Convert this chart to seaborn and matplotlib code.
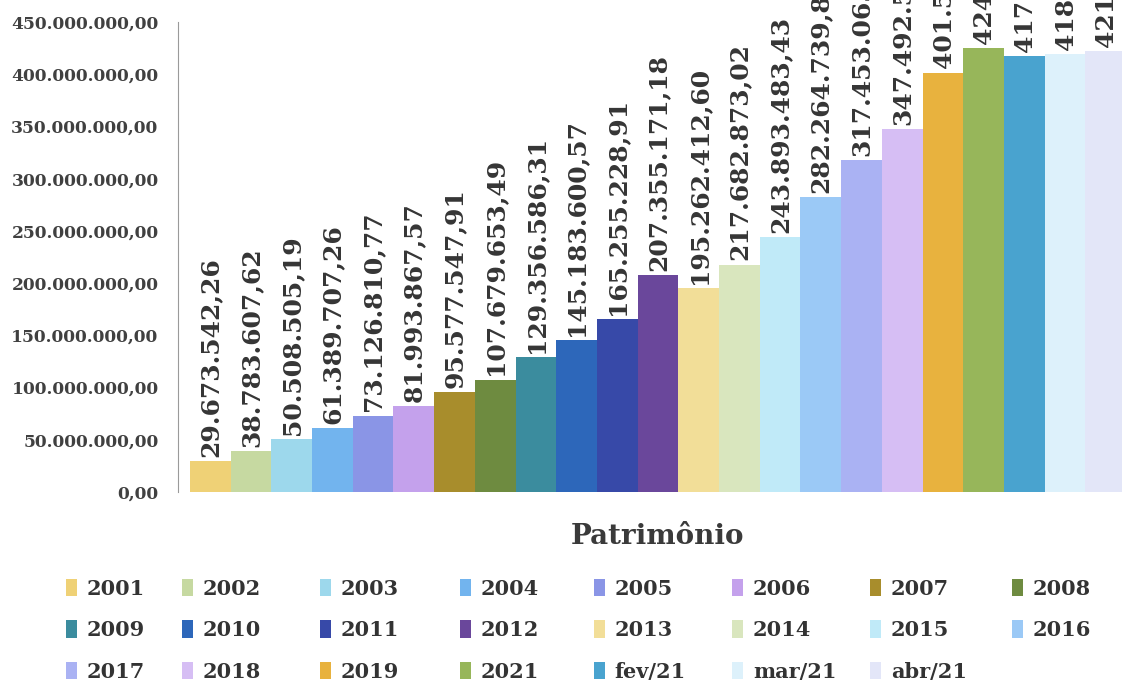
# Patrimônio - clustered columns, one series per period

import numpy as np
import pandas as pd
import matplotlib
matplotlib.use('Agg')
import matplotlib.pyplot as plt
import seaborn as sns
from matplotlib.ticker import FuncFormatter

# data (values above 2016 are cut at the top in the original)
periods = ['2001', '2002', '2003', '2004', '2005', '2006', '2007', '2008',
           '2009', '2010', '2011', '2012', '2013', '2014', '2015', '2016',
           '2017', '2018', '2019', '2021', 'fev/21', 'mar/21', 'abr/21']
patrimonio = [29673542.26, 38783607.62, 50508505.19, 61389707.26, 73126810.77,
              81993867.57, 95577547.91, 107679653.49, 129356586.31, 145183600.57,
              165255228.91, 207355171.18, 195262412.60, 217682873.02, 243893483.43,
              282264739.85, 317453065.40, 347492518.72, 401563219.84, 424871302.15,
              417302554.67, 418906142.30, 421758630.92]
colors = ['#EFD176', '#C6D9A1', '#9DD8EC', '#72B4EE', '#8A95E6', '#C4A1EC',
          '#A88D2C', '#6E8B40', '#3B8C9E', '#2D67BA', '#3749A8', '#6A479B',
          '#F2DE98', '#D9E6BE', '#C0EAF8', '#9BC9F6', '#AAB2F3', '#D6BEF4',
          '#E8B23E', '#97B65A', '#49A3CF', '#DDF1FB', '#E3E6F8']
category = 'Patrimônio'


def br(v):
    # brazilian number format: 1.234.567,89
    return f'{v:,.2f}'.replace(',', 'X').replace('.', ',').replace('X', '.')


df = pd.DataFrame({'cat': [category] * len(periods), 'periodo': periods, 'valor': patrimonio})

plt.rcParams['font.family'] = ['DejaVu Serif']
plt.rcParams['font.weight'] = 'bold'

fig = plt.figure(figsize=(11.22, 6.84), dpi=100)
ax = fig.add_axes([178 / 1122, 192 / 684, (1140 - 178) / 1122, 470 / 684])

sns.barplot(data=df, x='cat', y='valor', hue='periodo', hue_order=periods,
            palette=colors, width=1, gap=0, dodge=True, saturation=1,
            errorbar=None, ax=ax)

ax.set_ylim(0, 450e6)
ax.set_yticks(np.arange(0, 450e6 + 1, 50e6))
ax.yaxis.set_major_formatter(FuncFormatter(lambda v, p: br(v)))
ax.set_xlim(-0.5 - 12 / 936, 0.5 + 14 / 936)

for cont, v in zip(ax.containers, patrimonio):
    ax.bar_label(cont, labels=[br(v)], rotation=90, padding=3,
                 fontsize=18, color='#353535', fontweight='bold', clip_on=False)

for s in ['top', 'right', 'bottom']:
    ax.spines[s].set_visible(False)
ax.spines['left'].set_color('#9a9a9a')
ax.tick_params(axis='y', length=0, labelsize=12.3, labelcolor='#404040', pad=14)
ax.tick_params(axis='x', length=0, labelsize=20, labelcolor='#3a3a3a', pad=22)
ax.set_xlabel('')
ax.set_ylabel('')

# legend: one small legend per column so the columns sit on a fixed grid like the original
handles, labels = ax.get_legend_handles_labels()
ax.get_legend().remove()
ncol = 8
col_x = [66, 182, 320, 460, 594, 732, 870, 1012]
for c in range(ncol):
    idx = [r * ncol + c for r in range(3) if r * ncol + c < len(periods)]
    leg = fig.legend([handles[i] for i in idx], [labels[i] for i in idx],
                     loc='upper left', bbox_to_anchor=(col_x[c] / 1122, 105 / 684),
                     frameon=False, borderpad=0, borderaxespad=0,
                     handlelength=0.55, handleheight=0.9, handletextpad=0.45,
                     labelspacing=1.02,
                     prop={'family': 'DejaVu Serif', 'weight': 'bold', 'size': 15})
    for t in leg.get_texts():
        t.set_color('#333333')

plt.savefig('out.png', dpi=100)
